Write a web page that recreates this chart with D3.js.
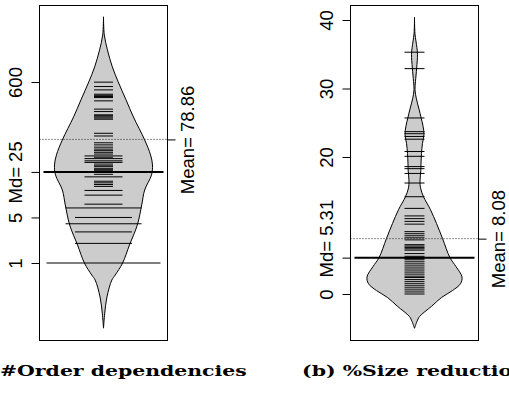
<!DOCTYPE html>
<html>
<head>
<meta charset="utf-8">
<script src="https://cdn.jsdelivr.net/npm/d3@7"></script>
<style>
  body { margin: 0; background: #fff; }
  svg { display: block; }
</style>
</head>
<body>
<svg id="chart" width="509" height="396"></svg>
<script>
// (a) number of order dependencies -- log axis, integer counts (count = stacked duplicates)
const orderValues = [1, 2, 3, 4, 5, 7, 8, 11, 13, 15, 16, 17, 18, 21, 23, 25,
  26, 27, 28, 30, 31, 33, 35, 37, 40, 42, 44, 47, 50, 53, 56, 60, 65, 70,
  89, 98, 161, 168, 175, 182, 188, 211, 230, 308, 346, 360, 375, 390, 454, 511, 597];
const orderCounts = [6, 3, 3, 4, 3, 4, 2, 2, 2, 1, 1, 1, 1, 2, 1, 1,
  1, 1, 1, 1, 1, 1, 2, 2, 2, 1, 2, 1, 1, 1, 1, 1, 1, 1,
  1, 1, 1, 1, 1, 1, 1, 1, 1, 1, 1, 1, 1, 1, 1, 1, 1];
// bean outline (relative density at each level)
const orderBeanLevels = [6010, 3180, 1870, 1025, 603, 319, 175, 77.5, 45.6, 32, 22.5, 13.2, 7.78, 3.83, 1.89, 1, 0.654, 0.548, 0.30, 0.17, 0.1];
const orderBeanDensity = [0, 0.016, 0.08, 0.18, 0.30, 0.46, 0.61, 0.84, 0.96, 1.0, 0.98, 0.84, 0.78, 0.69, 0.53, 0.39, 0.24, 0.17, 0.07, 0.025, 0];
const orderTicks = [1, 5, 600];
const orderMedian = 25;
const orderMean = 78.86;

// (b) % size reduction -- linear axis
const sizeValues = [35.3, 32.9, 25.7, 23.7, 23.4, 23.0, 22.6, 20.8, 20.1, 18.6, 18.3, 17.6, 16.2, 14.2, 12.5,
  11.4, 11.0, 10.6, 10.2, 9.1, 8.8, 8.5, 8.2, 7.9, 7.2, 7.0, 6.8, 6.6, 6.4, 5.9, 5.5, 5.2, 5.0,
  4.7, 4.4, 4.1, 3.8, 3.5, 3.2, 2.9, 2.6, 2.4, 2.1, 1.8, 1.5, 1.2, 0.9, 0.6, 0.3, 0.0];
const sizeBeanLevels = [40.4, 38, 36, 35, 33, 31, 29.8, 28.5, 27, 25.8, 24.5, 23.3, 22, 20.5, 19, 18, 16.5, 15.5, 14.2,
  12.3, 10.3, 8.1, 5.3, 4.0, 2.5, 1.5, 0.5, -0.5, -1.8, -3.3, -4, -5];
const sizeBeanDensity = [0, 0.01, 0.05, 0.063, 0.046, 0.02, 0.01, 0.04, 0.095, 0.137, 0.18, 0.2, 0.168, 0.147, 0.137, 0.133, 0.116, 0.126, 0.19,
  0.337, 0.463, 0.59, 0.747, 0.874, 1.0, 0.968, 0.8, 0.57, 0.358, 0.105, 0.053, 0];
const sizeTicks = [0, 20, 30, 40];
const sizeMedian = 5.31;
const sizeMean = 8.08;

const captions = ['#Order dependencies', '(b) %Size reduction'];

const svg = d3.select('#chart');
const fmt = d3.format('.2f');

function drawPanel(p) {
  const g = svg.append('g');
  const y = p.y;
  const cx = (p.left + p.right) / 2;
  const w = d3.scaleLinear().domain([0, 1]).range([0, p.maxHalf]);
  const len = d3.scaleLinear().domain([0, 1]).range([0, p.unit]);

  const outline = p.levels.map((v, i) => ({ v, d: p.density[i] }));
  const area = d3.area()
    .y(d => y(d.v))
    .x0(d => cx - w(d.d))
    .x1(d => cx + w(d.d))
    .curve(d3.curveCatmullRom);
  g.append('path')
    .attr('d', area(outline))
    .attr('fill', '#cccccc')
    .attr('stroke', '#000')
    .attr('stroke-width', 1);

  // one line per observation, duplicates stacked into longer lines
  const obs = p.values.map((v, i) => ({ v, n: p.counts ? p.counts[i] : 1 }));
  g.selectAll('line.obs')
    .data(obs)
    .enter()
    .append('line')
    .attr('class', 'obs')
    .attr('x1', d => cx - len(d.n) / 2)
    .attr('x2', d => cx + len(d.n) / 2)
    .attr('y1', d => y(d.v))
    .attr('y2', d => y(d.v))
    .attr('stroke', '#000')
    .attr('stroke-width', 1);

  // median (bean average) line
  g.append('line')
    .attr('x1', p.left + 4).attr('x2', p.right - 4)
    .attr('y1', y(p.median)).attr('y2', y(p.median))
    .attr('stroke', '#000').attr('stroke-width', 2);

  // overall mean, dotted
  g.append('line')
    .attr('x1', p.left).attr('x2', p.right)
    .attr('y1', y(p.mean)).attr('y2', y(p.mean))
    .attr('stroke', '#222').attr('stroke-width', 1)
    .attr('stroke-dasharray', '1,2');

  // box
  g.append('rect')
    .attr('x', p.left).attr('y', 5.5)
    .attr('width', p.right - p.left).attr('height', 335)
    .attr('fill', 'none').attr('stroke', '#000').attr('stroke-width', 1);

  // left axis, Md label replaces a normal tick
  const ticks = p.ticks.concat([p.median]);
  const axL = g.append('g')
    .attr('transform', `translate(${p.left},0)`)
    .call(d3.axisLeft(y).tickValues(ticks).tickSize(8).tickSizeOuter(0)
      .tickFormat(d => d === p.median ? 'Md= ' + p.median : String(d)));
  axL.select('.domain').remove();

  const axR = g.append('g')
    .attr('transform', `translate(${p.right},0)`)
    .call(d3.axisRight(y).tickValues([p.mean]).tickSize(8).tickSizeOuter(0)
      .tickFormat(d => 'Mean= ' + fmt(d)));
  axR.select('.domain').remove();

  [[axL, -18], [axR, 26.5]].forEach(([ax, off]) => {
    ax.selectAll('.tick line').attr('stroke', '#000');
    ax.selectAll('.tick text')
      .attr('x', null).attr('y', null).attr('dy', null)
      .attr('transform', d => `translate(${off},${d === p.median && ax === axL ? p.mdShift : 0}) rotate(-90)`)
      .attr('text-anchor', 'middle')
      .attr('fill', '#000')
      .style('font-family', '"Liberation Sans", Arial, sans-serif')
      .style('font-size', '18.5px');
  });
}

drawPanel({
  left: 39.5, right: 167.5,
  y: d3.scaleLog().domain([1, 600]).range([263, 82]),
  levels: orderBeanLevels, density: orderBeanDensity, maxHalf: 49,
  values: orderValues, counts: orderCounts, unit: 19,
  ticks: orderTicks, median: orderMedian, mean: orderMean, mdShift: 0
});

drawPanel({
  left: 350.5, right: 478.5,
  y: d3.scaleLinear().domain([0, 40]).range([294, 20]),
  levels: sizeBeanLevels, density: sizeBeanDensity, maxHalf: 47.5,
  values: sizeValues, counts: null, unit: 20,
  ticks: sizeTicks, median: sizeMedian, mean: sizeMean, mdShift: -19.5
});

// sub-figure captions (LaTeX style bold serif)
const capStyle = t => t
  .attr('font-family', '"DejaVu Serif", "Liberation Serif", serif')
  .attr('font-weight', 'bold')
  .attr('font-size', 15.5)
  .attr('fill', '#000');
const capA = svg.append('text').attr('x', 0).attr('y', 0).text(captions[0]).call(capStyle);
const sx = 247 / capA.node().getComputedTextLength();
capA.attr('transform', `translate(0,376) scale(${sx},1)`);
svg.append('text').attr('x', 0).attr('y', 0).text(captions[1]).call(capStyle)
  .attr('transform', `translate(302,376) scale(${sx},1)`);
</script>
</body>
</html>
